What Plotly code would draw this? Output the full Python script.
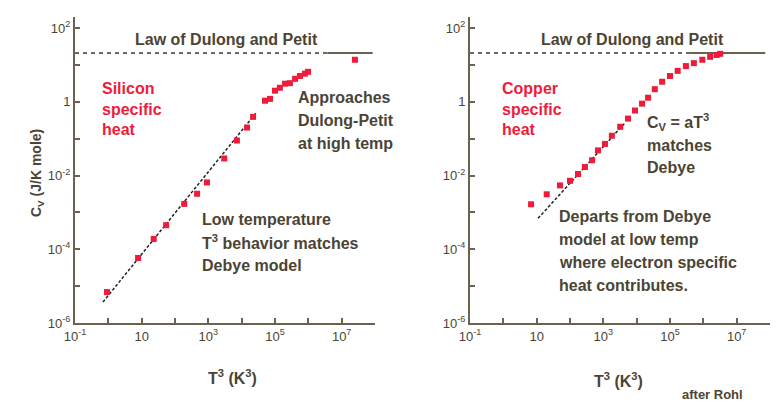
import plotly.graph_objects as go

# ---------------- data ----------------
si_T3 = [0.91, 7.8, 23, 54, 190, 460, 910, 3000, 7200, 14500, 22000, 50000, 71000,
         1.0e5, 1.4e5, 2.0e5, 2.8e5, 4.0e5, 5.6e5, 7.9e5, 9.8e5, 2.5e7]
si_Cv = [6.9e-6, 5.8e-5, 1.9e-4, 4.5e-4, 1.7e-3, 3.2e-3, 6.5e-3, 0.029, 0.089, 0.20, 0.39, 1.07, 1.2,
         2.0, 2.4, 3.1, 3.2, 4.2, 5.0, 5.8, 6.5, 13.8]
si_debye_T3 = [0.69, 27000]
si_debye_Cv = [3.7e-6, 0.50]

cu_T3 = [6.8, 20, 50, 100, 174, 280, 460, 690, 1120, 1800, 3200, 5500, 8900, 14500,
         22000, 35000, 58000, 1.0e5, 1.7e5, 3.0e5, 5.2e5, 9.3e5, 1.6e6, 2.5e6, 3.2e6]
cu_Cv = [1.66e-3, 3.1e-3, 5.4e-3, 7.2e-3, 0.011, 0.017, 0.026, 0.048, 0.072, 0.12, 0.21, 0.35, 0.58, 0.89,
         1.29, 2.2, 3.5, 5.0, 6.9, 9.3, 11.2, 13.8, 16.6, 18.6, 20]
cu_debye_T3 = [11, 4500]
cu_debye_Cv = [6.9e-4, 0.27]

dulong_Cv = 21
si_dulong_dash_T3 = [0.1, 3.7e6]
si_dulong_solid_T3 = [3.7e6, 8.5e7]
cu_dulong_dash_T3 = [0.1, 4.0e5]
cu_dulong_solid_T3 = [4.0e5, 7.2e7]

x_tickvals = [10**k for k in range(-1, 9)]
x_ticktext = ["10<sup>-1</sup>", "", "10", "", "10<sup>3</sup>", "", "10<sup>5</sup>", "", "10<sup>7</sup>", ""]
y_tickvals = [10**k for k in range(-6, 3)]
y_ticktext = ["10<sup>-6</sup>", "", "10<sup>-4</sup>", "", "10<sup>-2</sup>", "", "1", "", "10<sup>2</sup>"]

# ---------------- style ----------------
W, H = 780, 404
RED = "#ee1c3a"
TXT = "#4b4434"
AX = "#6b6250"
FONT = "Liberation Sans"

fig = go.Figure()

def add_panel(xa, ya, T3, Cv, dT3, dCv, dash_T3, solid_T3):
    fig.add_trace(go.Scatter(x=dash_T3, y=[dulong_Cv] * 2, mode="lines", xaxis=xa, yaxis=ya,
                             line=dict(color="#3a3a3a", width=1.5, dash="4px,4px"), showlegend=False))
    fig.add_trace(go.Scatter(x=solid_T3, y=[dulong_Cv] * 2, mode="lines", xaxis=xa, yaxis=ya,
                             line=dict(color=AX, width=2), showlegend=False))
    fig.add_trace(go.Scatter(x=dT3, y=dCv, mode="lines", xaxis=xa, yaxis=ya,
                             line=dict(color="#222222", width=1.5, dash="3px,2px"), showlegend=False))
    fig.add_trace(go.Scatter(x=T3, y=Cv, mode="markers", xaxis=xa, yaxis=ya,
                             marker=dict(symbol="square", size=6, color=RED), showlegend=False))

add_panel("x", "y", si_T3, si_Cv, si_debye_T3, si_debye_Cv, si_dulong_dash_T3, si_dulong_solid_T3)
add_panel("x2", "y2", cu_T3, cu_Cv, cu_debye_T3, cu_debye_Cv, cu_dulong_dash_T3, cu_dulong_solid_T3)

axis_common = dict(type="log", showgrid=False, zeroline=False, showline=True, linecolor=AX, linewidth=2,
                   ticks="inside", ticklen=5, tickwidth=1.5, tickcolor=AX, automargin=False,
                   tickfont=dict(family=FONT, size=13, color=TXT))
xcommon = dict(axis_common, range=[-1, 8], tickvals=x_tickvals, ticktext=x_ticktext)
ycommon = dict(axis_common, range=[-6, 2.3], tickvals=y_tickvals, ticktext=y_ticktext,
               domain=[1 - 323 / H, 1 - 17 / H])

fig.update_layout(
    template="none",
    width=W, height=H, margin=dict(l=0, r=0, t=0, b=0, autoexpand=False),
    paper_bgcolor="white", plot_bgcolor="white",
    xaxis=dict(xcommon, domain=[75 / W, 375 / W], anchor="y"),
    yaxis=dict(ycommon, anchor="x"),
    xaxis2=dict(xcommon, domain=[470 / W, 770 / W], anchor="y2"),
    yaxis2=dict(ycommon, anchor="x2"),
)

def txt(text, px, py, color=TXT, size=16, xanchor="left", angle=0):
    fig.add_annotation(text="<b>" + text + "</b>", x=px / W, y=1 - py / H, xref="paper", yref="paper",
                       xanchor=xanchor, yanchor="middle", showarrow=False, textangle=angle,
                       font=dict(family=FONT, size=size, color=color))

def block(lines, px, py0, dy, **kw):
    for i, l in enumerate(lines):
        txt(l, px, py0 + i * dy, **kw)

# left panel
txt("Law of Dulong and Petit", 226, 40, xanchor="center")
block(["Silicon", "specific", "heat"], 100, 89, 20, color=RED)
block(["Approaches", "Dulong-Petit", "at high temp"], 296, 97, 23)
block(["Low temperature", "T<sup>3</sup> behavior matches", "Debye model"], 200, 219, 23)
txt("C<sub>V</sub> (J/K mole)", 26, 173, angle=-90, size=14)
txt("T<sup>3</sup> (K<sup>3</sup>)", 232, 377, xanchor="center")

# right panel
txt("Law of Dulong and Petit", 632, 40, xanchor="center")
block(["Copper", "specific", "heat"], 500, 89, 20, color=RED)
block(["C<sub>V</sub> = aT<sup>3</sup>", "matches", "Debye"], 645, 122, 23)
block(["Departs from Debye", "model at low temp", "where electron specific", "heat contributes."], 557, 216, 23)
txt("T<sup>3</sup> (K<sup>3</sup>)", 618, 380, xanchor="center")
txt("after Rohl", 680, 394, size=13)

fig.write_html("out.html")
